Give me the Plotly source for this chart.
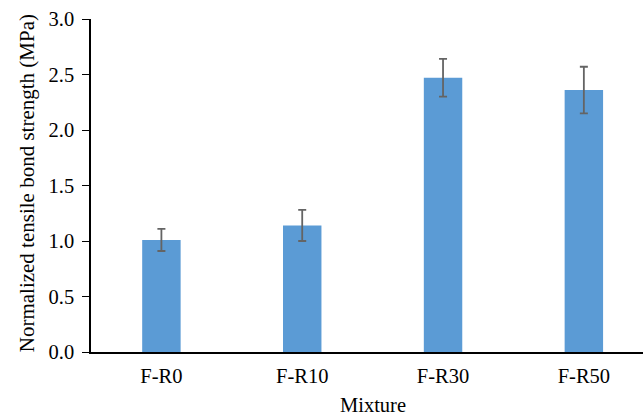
import plotly.graph_objects as go

# Mean normalized tensile bond strength per mixture, with standard deviations
mixtures = ["F-R0", "F-R10", "F-R30", "F-R50"]
strength = [1.01, 1.14, 2.47, 2.36]
std_dev = [0.10, 0.14, 0.17, 0.21]

y_ticks = [0.0, 0.5, 1.0, 1.5, 2.0, 2.5, 3.0]
y_tick_text = ["0.0", "0.5", "1.0", "1.5", "2.0", "2.5", "3.0"]

FONT = "Liberation Serif, Times New Roman, serif"

fig = go.Figure(
    go.Bar(
        x=list(range(len(mixtures))),
        y=strength,
        width=0.273,
        marker=dict(color="#5B9BD5", line=dict(width=0)),
        error_y=dict(
            type="data",
            array=std_dev,
            visible=True,
            color="#646464",
            thickness=1.8,
            width=4,
        ),
    )
)

fig.update_layout(
    width=643,
    height=415,
    margin=dict(l=91, r=0, t=19, b=63),
    plot_bgcolor="white",
    paper_bgcolor="white",
    showlegend=False,
    font=dict(family=FONT, size=20, color="#000000"),
    xaxis=dict(
        range=[-0.5, 3.42],
        tickmode="array",
        tickvals=list(range(len(mixtures))),
        ticktext=mixtures,
        showline=True,
        linecolor="#000000",
        linewidth=1.8,
        ticks="",
        ticklabelstandoff=4,
        showgrid=False,
        zeroline=False,
        tickfont=dict(family=FONT, size=20.5, color="#000000"),
    ),
    yaxis=dict(
        range=[0, 3.0],
        tickmode="array",
        tickvals=y_ticks,
        ticktext=y_tick_text,
        showline=True,
        linecolor="#000000",
        linewidth=1.5,
        ticks="outside",
        ticklen=7,
        tickwidth=1,
        tickcolor="#000000",
        ticklabelstandoff=4,
        showgrid=False,
        zeroline=False,
        tickfont=dict(family=FONT, size=20.5, color="#000000"),
    ),
    annotations=[
        dict(
            text="Mixture",
            x=1.5,
            xref="x",
            y=-0.16,
            yref="paper",
            xanchor="center",
            yanchor="middle",
            showarrow=False,
            font=dict(family=FONT, size=20.5, color="#000000"),
        ),
        dict(
            text="Normalized tensile bond strength (MPa)",
            x=-0.117,
            xref="paper",
            y=0.508,
            yref="paper",
            xanchor="center",
            yanchor="middle",
            textangle=-90,
            showarrow=False,
            font=dict(family=FONT, size=21, color="#000000"),
        ),
    ],
)

fig.write_html("out.html")
